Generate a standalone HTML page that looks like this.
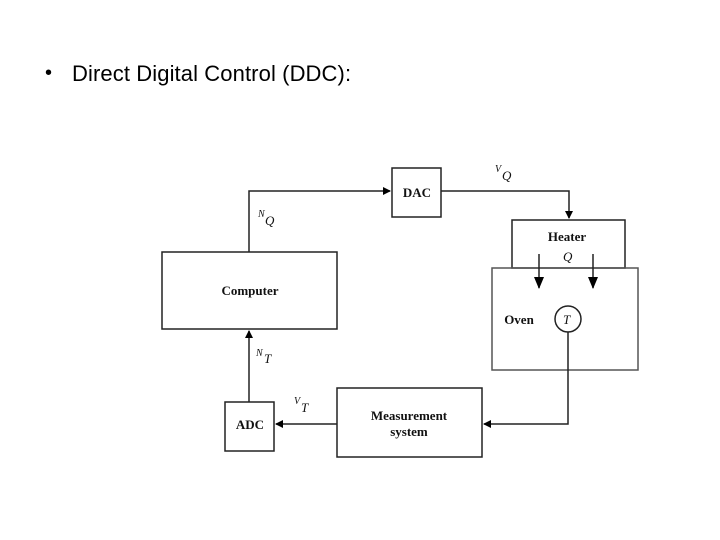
<!DOCTYPE html>
<html><head><style>
body{margin:0;background:#fff;width:720px;height:540px;overflow:hidden;position:relative}
.b{position:absolute;left:45px;top:62px;font:20px "Liberation Sans",sans-serif;color:#000}
.t{position:absolute;left:72px;top:61px;font:22px "Liberation Sans",sans-serif;color:#000;letter-spacing:0.1px}
</style></head><body>
<div class="b">•</div>
<div class="t">Direct Digital Control (DDC):</div>
<svg width="720" height="540" style="position:absolute;left:0;top:0" font-family="Liberation Serif,serif">
<defs><marker id="a" markerWidth="8" markerHeight="8" refX="7" refY="4" orient="auto" markerUnits="userSpaceOnUse"><path d="M0,0L8,4L0,8z" fill="#000"/></marker>
<marker id="b" markerWidth="12" markerHeight="12" refX="11" refY="5" orient="auto" markerUnits="userSpaceOnUse"><path d="M0,0L12,5L0,10z" fill="#000"/></marker></defs>
<g fill="none" stroke="#222" stroke-width="1.5">
<rect x="392" y="168" width="49" height="49"/>
<rect x="162" y="252" width="175" height="77"/>
<rect x="512" y="220" width="113" height="48"/>
<rect x="492" y="268" width="146" height="102" stroke="#555"/>
<rect x="337" y="388" width="145" height="69"/>
<rect x="225" y="402" width="49" height="49"/>
<circle cx="568" cy="319" r="13"/>
<path d="M249 252V191H390" marker-end="url(#a)"/>
<path d="M441 191H569V218" marker-end="url(#a)"/>
<path d="M568 332V424H484" marker-end="url(#a)"/>
<path d="M337 424H276" marker-end="url(#a)"/>
<path d="M249 402V331" marker-end="url(#a)"/>
<path d="M539 254V288" marker-end="url(#b)"/>
<path d="M593 254V288" marker-end="url(#b)"/>
</g>
<g font-size="13" font-weight="bold" text-anchor="middle" fill="#111">
<text x="417" y="197">DAC</text>
<text x="250" y="295">Computer</text>
<text x="567" y="241">Heater</text>
<text x="519" y="324">Oven</text>
<text x="409" y="420">Measurement</text>
<text x="409" y="436">system</text>
<text x="250" y="429">ADC</text>
</g>
<g font-style="italic" font-size="13" fill="#111">
<text x="563" y="261">Q</text>
<text x="563" y="324">T</text>
<text x="495" y="172" font-size="10">V</text><text x="502" y="180">Q</text>
<text x="258" y="217" font-size="10">N</text><text x="265" y="225">Q</text>
<text x="256" y="356" font-size="10">N</text><text x="264" y="363">T</text>
<text x="294" y="404" font-size="10">V</text><text x="301" y="412">T</text>
</g>
</svg>
</body></html>
